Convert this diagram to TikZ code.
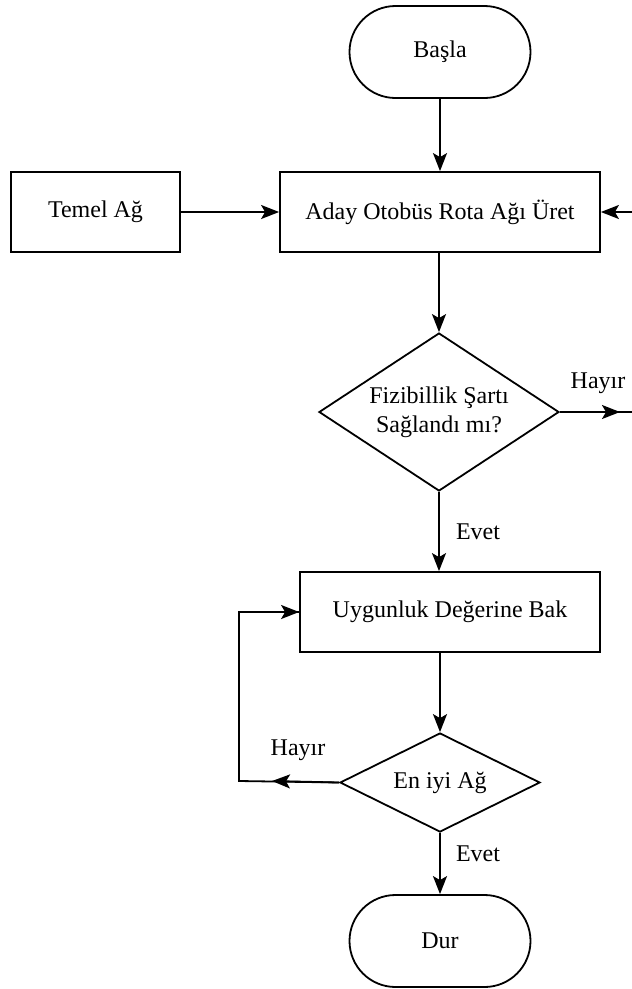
\documentclass[tikz,border=0pt]{standalone}
\usepackage{fontspec}
\setmainfont{LiberationSerif}[Extension=.ttf, UprightFont=*-Regular, BoldFont=*-Bold]
\usetikzlibrary{shapes.geometric,shapes.misc,arrows.meta}
\begin{document}
\begin{tikzpicture}[x=1pt,y=-1pt,
  every node/.style={font=\rmfamily\fontsize{24}{29}\selectfont},
  ln/.style={line width=1.8pt},
  arr/.style={ln, -{Stealth[length=18pt,width=14pt,inset=4pt]}},
  box/.style={draw, ln, rectangle, minimum width=#1, minimum height=80pt, inner sep=0pt},
  term/.style={draw, ln, rounded rectangle, minimum width=181pt, minimum height=92pt, inner sep=0pt},
  dia/.style={draw, ln, diamond, inner sep=0pt},
  lbl/.style={inner sep=0pt}
]
\useasboundingbox (0,0) rectangle (632,989);

% blocks
\node[term] (start) at (440,52) {Başla};
\node[box=320pt] (gen) at (440,212) {Aday Otobüs Rota Ağı Üret};
\node[box=169pt] (base) at (95.5,212) {Temel Ağ};
\node[dia, minimum width=240pt, minimum height=158pt] (feas) at (439,412) {};
\node[align=center, lbl] (feastxt) at (feas) {Fizibillik Şartı\\Sağlandı mı?};
\node[box=300pt] (fit) at (450,612) {Uygunluk Değerine Bak};
\node[dia, minimum width=200pt, minimum height=99pt] (best) at (440,782.5) {};
\node[lbl] (besttxt) at (best) {En iyi Ağ};
\node[term] (stop) at (440,941) {Dur};

% loose ends at the right border
\coordinate (rin) at (632,212);
\coordinate (rout) at (632,412);
\coordinate (rtip) at (620,412);
\coordinate (lc) at (239,781);
\coordinate (lt) at (272,781);

% connectors
\draw[arr] (start) -- (gen);
\draw[arr] (base) -- (gen);
\draw[arr] (rin) -- (gen);
\draw[arr] (gen.south -| feas.north) -- (feas);
\draw[ln] (feas.east) -- (rout);
\draw[arr] (feas.east) -- (rtip);
\draw[arr] (feas.south) -- (feas.south |- fit.north);
\draw[arr] (fit.south -| best.north) -- (best.north);
\draw[ln] (best.west) -- (lc) |- (fit.west);
\draw[arr] (lc |- fit.west) -- (fit.west);
\draw[arr] (best.west) -- (lt);
\draw[arr] (best) -- (stop);

% edge labels
\node[lbl] (h1) at (598,383) {Hayır};
\node[lbl] (e1) at (478,532) {Evet};
\node[lbl] (h2) at (298,750) {Hayır};
\node[lbl] (e2) at (478,854) {Evet};
\end{tikzpicture}
\end{document}
